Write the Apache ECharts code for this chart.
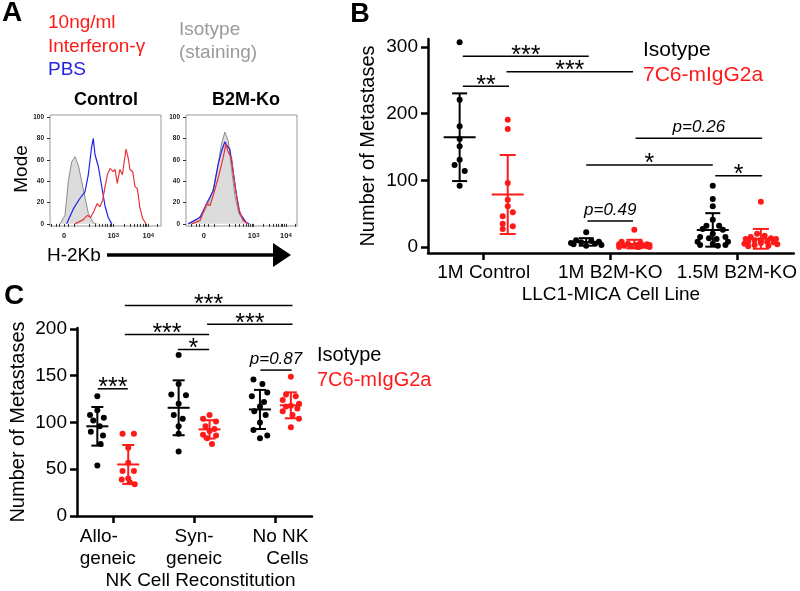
<!DOCTYPE html>
<html><head><meta charset="utf-8">
<script src="https://cdn.jsdelivr.net/npm/echarts@6/dist/echarts.min.js"></script>
<style>html,body{margin:0;padding:0;background:#fff}#c{width:800px;height:591px}</style>
</head><body><div id="c"></div><script>
const FONT = '"Liberation Sans", Arial, Helvetica, sans-serif';
const RED = '#ff1a1a', BLUE = '#2323e6', GRAY = '#9a9a9a';

// ---------- Panel A: flow histograms, [channel (0-100 of plot width), % of mode] ----------
const ctrlIsotype = [[9,0],[13.5,8],[16.5,40],[19.5,58],[22.5,63],[25.5,55],[28.5,40],[31.5,25],[34.5,10],[39,1],[42,0]];
const ctrlPBS = [[15,0],[21,14],[27,24],[31.5,30],[34.5,46],[37.5,72],[39,80],[40.5,65],[43.5,54],[46.6,35],[49.5,17],[52.5,6],[55.6,0]];
const ctrlIFNg = [[22.5,0],[30,4],[33.6,8],[36.6,6],[39.6,12],[42.6,19],[45,16],[47.4,22],[49.8,36],[51.7,46],[54.1,52],[57,49],[58.6,51],[60.6,38],[63,51],[65.2,46],[68.5,70],[70.6,61],[72,51],[74.5,49],[76.6,35],[78.7,33],[81,15],[83.5,5],[86.5,0]];
const koIsotype = [[2,0],[9.6,4],[15.6,10],[20,19],[24.6,33],[29,56],[32,75],[35,86],[38,78],[41,52],[44,27],[47.5,10],[51.6,3],[56,0]];
const koPBS = [[2,0],[12.6,6],[18.6,19],[24.6,31],[29,56],[32,68],[35,77],[36.5,74],[39.5,70],[42.5,49],[45.5,27],[48.5,10],[54.5,1],[57,0]];
const koIFNg = [[5,0],[12.6,3],[18.6,19],[21.6,17],[24.6,27],[29,43],[33.5,62],[36,75],[38,67],[41,62],[44,36],[47.5,14],[51.6,3],[56,0]];
const histYTicks = [0,20,40,60,80,100];
const hist1MajorCh = [12.6, 57, 88.6];
const hist2MajorCh = [16, 61, 90];
const histMajorLabels = ['0', '{b|10}{s|3}', '{b|10}{s|4}'];
const hist1TickCh = [1.5,5.4,8.4,12.6,16.5,21.6,35,40.5,44.4,47.5,50,52,54,55.5,57,66.5,72,76,79,81.6,83.7,85.5,87.1,88.6,97];
const hist2TickCh = [5,9,12,16,20,25,39,44.5,48.3,51.5,54,56,58,59.5,61,69.7,74.8,78.4,81.2,83.5,85.4,87,88.5,90,98];

// ---------- Panel B: metastases per mouse; jitter = horizontal dot offset (category units) ----------
const bCategories = ['1M Control', '1M B2M-KO', '1.5M B2M-KO'];
const bIsotype = [
  [307,221,181,162,151,131,123,114,92],
  [22,10,9,8,7,6,5,4,3,2],
  [92,72,61,41,32,32,27,26,20,15,15,13,12,8,8,5,3,3,2]
];
const bIsotypeJitter = [
  [0,0,0,0,0,0,-0.04,0.04,0],
  [0,-0.08,0.04,0.1,-0.04,-0.12,0.07,-0.1,0.12,0],
  [0,0,0,0,-0.05,0.05,-0.08,0.08,0,-0.1,0.1,-0.03,0.03,-0.12,0.12,0,-0.1,0.1,0.04]
];
const b7C6 = [
  [191,177,96,71,61,52,46,35,31,27],
  [26,8,6,5,4,4,3,3,2,2,1,1,0,0,0],
  [68,20,17,15,13,12,12,10,10,8,8,7,6,5,4,3,2,1]
];
const b7C6Jitter = [
  [0,0,0,0,0,0.04,-0.04,-0.04,0.04,-0.04],
  [0,-0.1,0.05,-0.05,0.1,-0.12,0.02,0.12,-0.08,0.07,-0.03,0.1,-0.12,0.03,0.12],
  [0,-0.03,0.03,-0.08,0.08,-0.12,0.12,0,-0.05,0.05,-0.1,0.1,0,-0.13,0.13,-0.05,0.06,-0.1]
];
// [x1, x2, y, label]
const bSigBars = [
  [-0.165, 0.83, 286, '***'],
  [0.18, 1.18, 263, '***'],
  [-0.165, 0.2, 241, '**'],
  [1.2, 2.2, 163, 'p=0.26'],
  [0.81, 1.81, 123, '*'],
  [1.83, 2.2, 107, '*'],
  [0.82, 1.18, 39, 'p=0.49']
];
const bYTicks = [0,100,200,300];

// ---------- Panel C ----------
const cCategories = ['Allo-\ngeneic', 'Syn-\ngeneic', 'No NK\nCells'];
const cIsotype = [
  [128,113,108,105,102,96,90,86,77,54],
  [172,141,130,129,120,108,104,96,88,69],
  [146,141,132,128,122,117,112,108,100,92,86,83]
];
const cIsotypeJitter = [
  [0,0,-0.09,0.08,-0.05,0.03,-0.08,0.07,0.04,0],
  [0,0,-0.09,0.09,0,-0.06,0.05,0,0,0],
  [-0.08,0.03,0.09,-0.1,0.05,0,-0.07,0.07,0,-0.08,0.09,0]
];
const c7C6 = [
  [88,88,73,57,48,48,40,39,36,34],
  [108,104,101,96,93,91,87,86,83,77],
  [149,130,128,124,120,118,117,115,112,108,104,95]
];
const c7C6Jitter = [
  [-0.07,0.07,0,0,-0.07,0.07,0,-0.08,0.02,0.08],
  [0,-0.08,0.08,-0.05,0.06,0,-0.08,0.08,-0.03,0.03],
  [0,-0.06,0.06,-0.1,0.1,0,-0.06,0.08,-0.1,0.02,0.1,0]
];
const cSigBars = [
  [0.148, 2.21, 225, '***'],
  [1.16, 2.21, 205, '***'],
  [0.148, 1.185, 194, '***'],
  [0.8, 1.185, 178, '*'],
  [-0.185, 0.185, 136, '***'],
  [1.815, 2.2, 156, 'p=0.87']
];
const cYTicks = [0,50,100,150,200];

const GROUP_OFF = 0.19;

function stats(vals){
  const n = vals.length, m = vals.reduce((a,b)=>a+b,0)/n;
  const sd = Math.sqrt(vals.reduce((a,b)=>a+(b-m)*(b-m),0)/(n-1));
  return [m, sd];
}
function dots(values, jitter, off){
  const out = [];
  values.forEach((vals,gi)=>vals.forEach((v,i)=>out.push([gi+off+jitter[gi][i], v])));
  return out;
}
function errData(values, off){
  return values.map((vals,gi)=>{ const s = stats(vals); return [gi+off, s[0], s[1]]; });
}
function errRender(capHalf, meanHalf, color){
  return function(params, api){
    const x = api.value(0), m = api.value(1), s = api.value(2);
    const t = api.coord([x, m+s]), b = api.coord([x, m-s]), c = api.coord([x, m]);
    const st = {stroke: color, lineWidth: 2};
    return {type:'group', children:[
      {type:'line', shape:{x1:t[0],y1:t[1],x2:b[0],y2:b[1]}, style:st},
      {type:'line', shape:{x1:t[0]-capHalf,y1:t[1],x2:t[0]+capHalf,y2:t[1]}, style:st},
      {type:'line', shape:{x1:b[0]-capHalf,y1:b[1],x2:b[0]+capHalf,y2:b[1]}, style:st},
      {type:'line', shape:{x1:c[0]-meanHalf,y1:c[1],x2:c[0]+meanHalf,y2:c[1]}, style:st}
    ]};
  };
}
function sigRender(bars){
  return function(params, api){
    const b = bars[params.dataIndex];
    const p1 = api.coord([b[0], b[2]]), p2 = api.coord([b[1], b[2]]);
    const isP = b[3].charAt(0) === 'p';
    return {type:'group', children:[
      {type:'line', shape:{x1:p1[0],y1:p1[1],x2:p2[0],y2:p2[1]}, style:{stroke:'#000', lineWidth:1.5}},
      {type:'text', x:(p1[0]+p2[0])/2, y:p1[1] - (isP ? 11 : 0.5),
       style:{text:b[3], fill:'#000', fontFamily:FONT, fontSize: isP ? 17 : 25, fontStyle: isP ? 'italic' : 'normal', align:'center', verticalAlign:'middle'}}
    ]};
  };
}

function histX(gi, majors, ticks){
  return {gridIndex:gi, type:'value', min:0, max:100, axisLine:{show:false}, splitLine:{show:false},
    axisTick:{show:true, customValues:ticks, length:3, lineStyle:{color:'#333', width:1}},
    axisLabel:{customValues:majors, margin:6, color:'#222', fontFamily:FONT, fontSize:7.5, fontWeight:'bold',
      formatter: v => { let k = 0; majors.forEach((m,i)=>{ if (Math.abs(m-v) < 0.01) k = i; }); return histMajorLabels[k]; },
      rich:{ b:{fontSize:7.5, fontWeight:'bold', fontFamily:FONT, color:'#222'}, s:{fontSize:6, fontWeight:'bold', fontFamily:FONT, verticalAlign:'top', color:'#222'} }}};
}
function histY(gi){
  return {gridIndex:gi, type:'value', min:-2, max:102, axisLine:{show:false}, splitLine:{show:false},
    axisTick:{show:true, customValues:histYTicks, length:3, lineStyle:{color:'#333', width:1}},
    axisLabel:{customValues:histYTicks, margin:6, color:'#222', fontFamily:FONT, fontSize:6.5, fontWeight:'bold'}};
}
function histSeries(xi, iso, pbs, ifn){
  return [
    {type:'line', xAxisIndex:xi, yAxisIndex:xi, data:iso, showSymbol:false, lineStyle:{color:'#8c8c8c', width:1}, areaStyle:{color:'#dcdcdc', opacity:1}, z:2},
    {type:'line', xAxisIndex:xi, yAxisIndex:xi, data:pbs, showSymbol:false, lineStyle:{color:BLUE, width:1.2}, z:3},
    {type:'line', xAxisIndex:xi, yAxisIndex:xi, data:ifn, showSymbol:false, lineStyle:{color:'#e8343a', width:1.2}, z:4}
  ];
}

const axisBlack = {color:'#000', width:2.5};
const option = {
  animation:false,
  backgroundColor:'#fff',
  textStyle:{fontFamily:FONT},
  grid:[
    {left:50, top:115, width:111, height:111, show:true, borderColor:'#999', borderWidth:1, backgroundColor:'transparent'},
    {left:186, top:115, width:111, height:111, show:true, borderColor:'#999', borderWidth:1, backgroundColor:'transparent'},
    {left:428, top:39, width:369, height:214},
    {left:77, top:328, width:235, height:190}
  ],
  xAxis:[
    histX(0, hist1MajorCh, hist1TickCh),
    histX(1, hist2MajorCh, hist2TickCh),
    {gridIndex:2, type:'value', min:-0.44, max:2.45, splitLine:{show:false},
      axisLine:{show:true, onZero:false, lineStyle:axisBlack},
      axisTick:{show:true, customValues:[0,1,2], length:7, lineStyle:axisBlack},
      axisLabel:{customValues:[0,1,2], formatter: v => bCategories[Math.round(v)], fontSize:19, color:'#000', margin:10, fontFamily:FONT},
      name:'LLC1-MICA Cell Line', nameLocation:'middle', nameGap:32, nameTextStyle:{fontSize:19, color:'#000', fontFamily:FONT}},
    {gridIndex:3, type:'value', min:-0.44, max:2.45, splitLine:{show:false},
      axisLine:{show:true, onZero:false, lineStyle:axisBlack},
      axisTick:{show:true, customValues:[0,1,2], length:7, lineStyle:axisBlack},
      axisLabel:{customValues:[0,1,2], margin:10, color:'#000', fontFamily:FONT, fontSize:19, lineHeight:22,
        formatter: v => { const i = Math.round(v); const st = ['l','c','r'][i]; return cCategories[i].split('\n').map(s => '{'+st+'|'+s+'}').join('\n'); },
        rich:{ l:{align:'left', fontSize:19, lineHeight:22, fontFamily:FONT, color:'#000', padding:[0,10,0,0]},
               c:{align:'center', fontSize:19, lineHeight:22, fontFamily:FONT, color:'#000'},
               r:{align:'right', fontSize:19, lineHeight:22, fontFamily:FONT, color:'#000', padding:[0,0,0,10]} }},
      name:'NK Cell Reconstitution', nameLocation:'middle', nameGap:55, nameTextStyle:{fontSize:19, color:'#000', fontFamily:FONT, padding:[0,0,0,12]}}
  ],
  yAxis:[
    histY(0), histY(1),
    {gridIndex:2, type:'value', min:-9, max:312, splitLine:{show:false},
      axisLine:{show:true, onZero:false, lineStyle:axisBlack},
      axisTick:{show:true, customValues:bYTicks, length:7, lineStyle:axisBlack},
      axisLabel:{customValues:bYTicks, fontSize:19, color:'#000', margin:10, fontFamily:FONT},
      name:'Number of Metastases', nameLocation:'middle', nameGap:50, nameTextStyle:{fontSize:20, color:'#000', fontFamily:FONT}},
    {gridIndex:3, type:'value', min:0, max:201, splitLine:{show:false},
      axisLine:{show:true, onZero:false, lineStyle:axisBlack},
      axisTick:{show:true, customValues:cYTicks, length:7, lineStyle:axisBlack},
      axisLabel:{customValues:cYTicks, fontSize:19, color:'#000', margin:10, fontFamily:FONT},
      name:'Number of Metastases', nameLocation:'middle', nameGap:49, nameTextStyle:{fontSize:20, color:'#000', fontFamily:FONT}}
  ],
  series:[].concat(
    histSeries(0, ctrlIsotype, ctrlPBS, ctrlIFNg),
    histSeries(1, koIsotype, koPBS, koIFNg),
    [
      {type:'scatter', xAxisIndex:2, yAxisIndex:2, data:dots(bIsotype, bIsotypeJitter, -GROUP_OFF), symbolSize:6, itemStyle:{color:'#000', opacity:1}, z:3},
      {type:'scatter', xAxisIndex:2, yAxisIndex:2, data:dots(b7C6, b7C6Jitter, GROUP_OFF), symbolSize:6, itemStyle:{color:RED, opacity:1}, z:3},
      {type:'custom', xAxisIndex:2, yAxisIndex:2, data:errData(bIsotype, -GROUP_OFF), encode:{x:0, y:1}, renderItem:errRender(7.5, 16, '#000'), z:4},
      {type:'custom', xAxisIndex:2, yAxisIndex:2, data:errData(b7C6, GROUP_OFF), encode:{x:0, y:1}, renderItem:errRender(8, 16, RED), z:4},
      {type:'custom', xAxisIndex:2, yAxisIndex:2, data:bSigBars.map(b => [b[0], b[2]]), encode:{x:0, y:1}, renderItem:sigRender(bSigBars), clip:false, z:5},
      {type:'scatter', xAxisIndex:3, yAxisIndex:3, data:dots(cIsotype, cIsotypeJitter, -GROUP_OFF), symbolSize:6, itemStyle:{color:'#000', opacity:1}, z:3},
      {type:'scatter', xAxisIndex:3, yAxisIndex:3, data:dots(c7C6, c7C6Jitter, GROUP_OFF), symbolSize:6, itemStyle:{color:RED, opacity:1}, z:3},
      {type:'custom', xAxisIndex:3, yAxisIndex:3, data:errData(cIsotype, -GROUP_OFF), encode:{x:0, y:1}, renderItem:errRender(6, 11, '#000'), z:4},
      {type:'custom', xAxisIndex:3, yAxisIndex:3, data:errData(c7C6, GROUP_OFF), encode:{x:0, y:1}, renderItem:errRender(6, 11, RED), z:4},
      {type:'custom', xAxisIndex:3, yAxisIndex:3, data:cSigBars.map(b => [b[0], b[2]]), encode:{x:0, y:1}, renderItem:sigRender(cSigBars), clip:false, z:5}
    ]
  ),
  graphic:[
    {type:'text', x:12, y:13, style:{text:'A', fontFamily:FONT, fontSize:28, fontWeight:'bold', fill:'#000', align:'center', verticalAlign:'middle'}},
    {type:'text', x:360, y:15, style:{text:'B', fontFamily:FONT, fontSize:27, fontWeight:'bold', fill:'#000', align:'center', verticalAlign:'middle'}},
    {type:'text', x:14, y:296, style:{text:'C', fontFamily:FONT, fontSize:28, fontWeight:'bold', fill:'#000', align:'center', verticalAlign:'middle'}},
    {type:'text', x:48, y:23, style:{text:'10ng/ml', fontFamily:FONT, fontSize:19, fill:RED, align:'left', verticalAlign:'middle'}},
    {type:'text', x:48, y:47, style:{text:'Interferon-γ', fontFamily:FONT, fontSize:19, fill:RED, align:'left', verticalAlign:'middle'}},
    {type:'text', x:48, y:70, style:{text:'PBS', fontFamily:FONT, fontSize:19, fill:BLUE, align:'left', verticalAlign:'middle'}},
    {type:'text', x:179, y:30, style:{text:'Isotype', fontFamily:FONT, fontSize:19, fill:GRAY, align:'left', verticalAlign:'middle'}},
    {type:'text', x:179, y:53, style:{text:'(staining)', fontFamily:FONT, fontSize:19, fill:GRAY, align:'left', verticalAlign:'middle'}},
    {type:'text', x:106, y:100, style:{text:'Control', fontFamily:FONT, fontSize:18, fontWeight:'bold', fill:'#000', align:'center', verticalAlign:'middle'}},
    {type:'text', x:246, y:100, style:{text:'B2M-Ko', fontFamily:FONT, fontSize:18, fontWeight:'bold', fill:'#000', align:'center', verticalAlign:'middle'}},
    {type:'text', x:21.5, y:169, rotation:Math.PI/2, style:{text:'Mode', fontFamily:FONT, fontSize:19, fill:'#000', align:'center', verticalAlign:'middle'}},
    {type:'text', x:47, y:256, style:{text:'H-2Kb', fontFamily:FONT, fontSize:19, fill:'#000', align:'left', verticalAlign:'middle'}},
    {type:'line', shape:{x1:107, y1:255, x2:276, y2:255}, style:{stroke:'#000', lineWidth:3.3}},
    {type:'polygon', shape:{points:[[273,243],[291,255],[273,267]]}, style:{fill:'#000'}},
    {type:'text', x:643, y:50, style:{text:'Isotype', fontFamily:FONT, fontSize:21, fill:'#000', align:'left', verticalAlign:'middle'}},
    {type:'text', x:643, y:75, style:{text:'7C6-mIgG2a', fontFamily:FONT, fontSize:21, fill:RED, align:'left', verticalAlign:'middle'}},
    {type:'text', x:317, y:355, style:{text:'Isotype', fontFamily:FONT, fontSize:20, fill:'#000', align:'left', verticalAlign:'middle'}},
    {type:'text', x:317, y:380, style:{text:'7C6-mIgG2a', fontFamily:FONT, fontSize:20, fill:RED, align:'left', verticalAlign:'middle'}}
  ]
};
const chart = echarts.init(document.getElementById('c'), null, {renderer:'canvas', width:800, height:591});
chart.setOption(option);
</script></body></html>
